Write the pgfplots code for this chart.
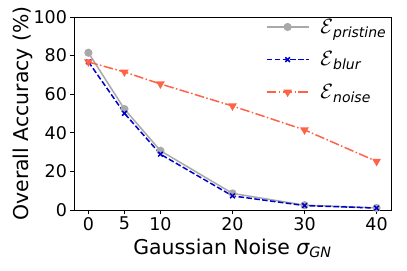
\documentclass[border=0pt]{standalone}
\usepackage{fontspec}
\setmainfont{DejaVu Sans}
\usepackage{pgfplots}
\pgfplotsset{compat=1.18}
\definecolor{cgray}{HTML}{A9A9A9}
\definecolor{cblue}{HTML}{0000CD}
\definecolor{ctomato}{HTML}{FF6347}
\newcommand\leg[1]{\hspace{9bp}{\fontsize{22bp}{24bp}\selectfont$\mathcal{E}$}\raisebox{-4bp}{\fontsize{14bp}{16bp}\selectfont\itshape #1}}
\begin{document}
\begin{tikzpicture}
\useasboundingbox (-74bp,-61bp) rectangle (333bp,210bp);
\begin{axis}[
  at={(0,0)}, anchor=south west,
  scale only axis, width=317bp, height=193bp,
  xmin=-2, xmax=42, ymin=0, ymax=100,
  xtick={0,5,10,20,30,40}, ytick={0,20,40,60,80,100},
  tick align=outside, tick pos=left,
  major tick length=3.5bp,
  axis line style={black, line width=0.8bp},
  every tick/.style={black, line width=0.8bp},
  /pgf/number format/assume math mode=true,
  tick label style={font=\fontsize{17.5bp}{20bp}\selectfont},
  label style={font=\fontsize{20.4bp}{24bp}\selectfont},
  xlabel={Gaussian Noise {\itshape σ}\textsubscript{\itshape GN}},
  ylabel={Overall Accuracy (\%)},
  xlabel style={at={(axis description cs:0.5,0)}, anchor=north, yshift=-25bp},
  ylabel style={at={(axis description cs:0,0.5)}, anchor=south, yshift=38bp},
  legend style={draw=none, fill=none, at={(1,1)}, anchor=north east, yshift=2bp,
    font=\fontsize{20bp}{24bp}\selectfont, row sep=13bp,
    legend cell align=left},
  legend image code/.code={%
    \draw[mark repeat=2,mark phase=2,#1] plot coordinates {(0bp,0bp)(21bp,0bp)(42bp,0bp)};},
]
\addplot[cgray, line width=1.5bp, mark=*, mark size=3.3bp, mark options={solid, fill=cgray}]
  coordinates {(0,81.5)(5,52.3)(10,30.7)(20,8.6)(30,2.5)(40,1.1)};
\addlegendentry{\leg{pristine}}
\addplot[cblue, line width=1.5bp, dash pattern=on 5.55bp off 2.4bp, mark=x, mark size=3.3bp, mark options={solid}]
  coordinates {(0,76.8)(5,50.1)(10,28.9)(20,7.3)(30,2.3)(40,1.0)};
\addlegendentry{\leg{blur}}
\addplot[ctomato, line width=1.5bp, dash pattern=on 9.6bp off 2.4bp on 1.5bp off 2.4bp, mark=triangle*, mark size=3.5bp, mark options={solid, fill=ctomato, rotate=180}]
  coordinates {(0,76.7)(5,71.5)(10,65.3)(20,53.9)(30,41.5)(40,25.2)};
\addlegendentry{\leg{noise}}
\end{axis}
\end{tikzpicture}
\end{document}
